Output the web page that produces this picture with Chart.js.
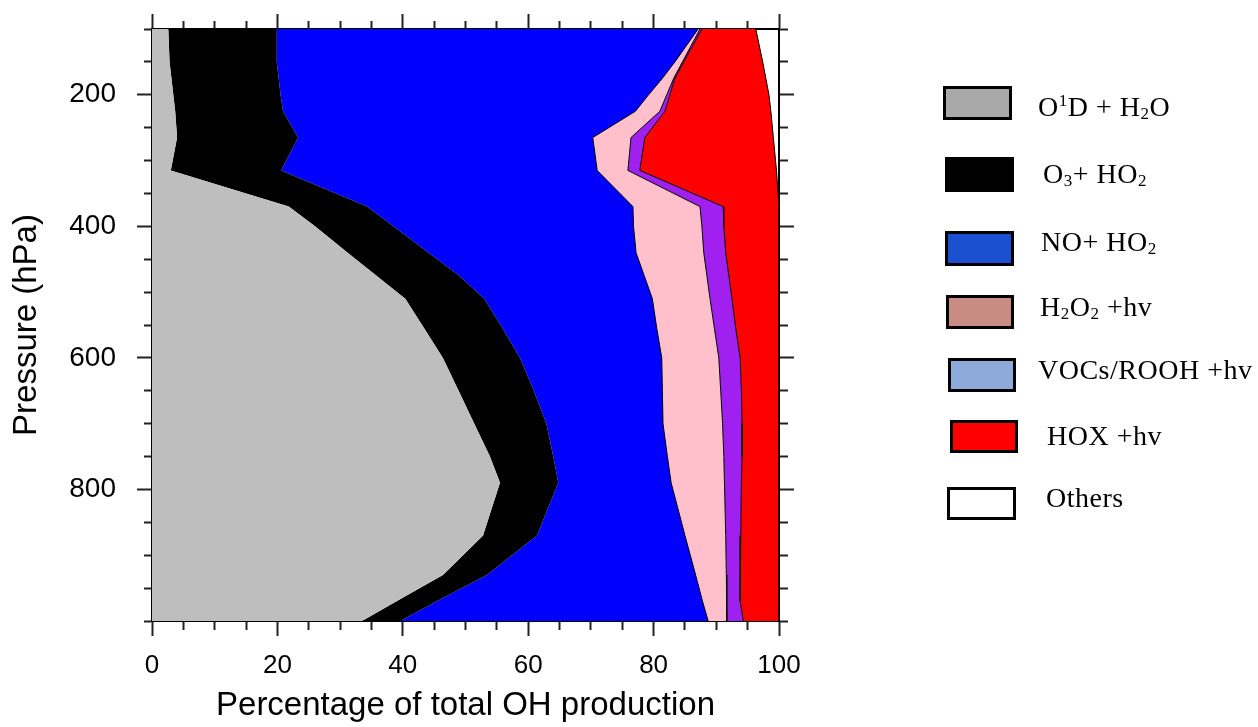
<!DOCTYPE html>
<html>
<head>
<meta charset="utf-8">
<title>OH production by pressure</title>
<script src="https://cdn.jsdelivr.net/npm/chart.js@4.4.0/dist/chart.umd.min.js"></script>
<style>
  body { margin: 0; background: #fff; }
  #wrap { position: relative; width: 1258px; height: 727px; }
  #legend { position: absolute; left: 0; top: 0; font-family: 'Liberation Serif', 'Times New Roman', serif; font-size: 28px; letter-spacing: 0.5px; color: #000; }
  .box { position: absolute; box-sizing: border-box; border: 3px solid #000; }
  .lbl { position: absolute; line-height: 1; white-space: nowrap; }
  .lbl sub, .lbl sup { font-size: 17px; line-height: 0; position: relative; vertical-align: baseline; }
  .lbl sub { top: 3px; }
  .lbl sup { top: -10px; }
</style>
</head>
<body>
<div id="wrap">
  <canvas id="ohChart"></canvas>
  <div id="legend">
    <div class="box" style="left:943px;top:86px;width:69px;height:34px;background:#a9a9a9"></div>
    <div class="lbl" style="left:1038px;top:93px">O<sup>1</sup>D + H<sub>2</sub>O</div>

    <div class="box" style="left:945px;top:157px;width:69px;height:35px;background:#000"></div>
    <div class="lbl" style="left:1043px;top:160px">O<sub>3</sub>+ HO<sub>2</sub></div>

    <div class="box" style="left:945px;top:231px;width:69px;height:35px;background:#1a50d0"></div>
    <div class="lbl" style="left:1041px;top:228px">NO+ HO<sub>2</sub></div>

    <div class="box" style="left:946px;top:295px;width:68px;height:34px;background:#c98c82"></div>
    <div class="lbl" style="left:1040px;top:293px">H<sub>2</sub>O<sub>2</sub> +hv</div>

    <div class="box" style="left:948px;top:358px;width:68px;height:34px;background:#8eaadb"></div>
    <div class="lbl" style="left:1038px;top:356px">VOCs/ROOH +hv</div>

    <div class="box" style="left:950px;top:420px;width:68px;height:33px;background:#ff0000"></div>
    <div class="lbl" style="left:1047px;top:422px">HOX +hv</div>

    <div class="box" style="left:947px;top:487px;width:69px;height:33px;background:#fff"></div>
    <div class="lbl" style="left:1046px;top:484px">Others</div>
  </div>
</div>
<script>
// pressure levels (hPa), top of the plot first
const pressure = [100, 150, 175, 200, 225, 265, 315, 370, 400, 440, 475, 510, 555, 600, 650, 700, 750, 790, 870, 930, 970, 1000];

// cumulative % of total OH production at the right edge of each band
const edgeO1D   = [2.6, 2.8, 3.1, 3.4, 3.7, 4.0, 3.0, 21.8, 26.0, 31.2, 35.8, 40.4, 43.4, 46.4, 48.9, 51.4, 53.9, 55.5, 52.8, 46.4, 39.0, 33.5];
const edgeO3HO2 = [19.9, 19.9, 20.2, 20.5, 20.9, 23.3, 20.6, 34.3, 38.5, 44.1, 49.0, 53.0, 55.9, 58.7, 60.9, 62.9, 64.0, 64.8, 61.4, 53.4, 45.4, 39.6];
const edgeNOHO2 = [87.1, 83.4, 81.4, 79.2, 77.1, 70.3, 71.0, 76.7, 76.8, 77.2, 78.5, 79.8, 80.5, 81.3, 81.4, 81.5, 82.2, 82.8, 85.0, 86.7, 87.8, 88.7];
const edgeH2O2  = [87.4, 84.6, 83.2, 82.1, 81.0, 76.4, 75.9, 87.4, 87.7, 88.0, 88.5, 89.0, 89.7, 90.4, 90.7, 91.0, 91.2, 91.3, 91.5, 91.6, 91.65, 91.7];
const edgeVOC   = [87.7, 84.8, 83.4, 82.6, 81.8, 78.6, 77.8, 91.1, 91.2, 91.5, 92.0, 92.5, 93.1, 93.8, 94.0, 94.1, 94.1, 94.0, 93.9, 93.8, 93.8, 94.3];
const edgeHOX   = [96.3, 97.4, 97.9, 98.4, 98.7, 99.1, 99.6, 100, 100, 100, 100, 100, 100, 100, 100, 100, 100, 100, 100, 100, 100, 100];

const xTicks = [0, 20, 40, 60, 80, 100];
const yTicks = [200, 400, 600, 800];

Chart.defaults.font.family = "'Liberation Sans', Arial, Helvetica, sans-serif";
Chart.defaults.color = '#000';

function toPoints(edge) {
    return edge.map((v, i) => ({ x: v, y: pressure[i] }));
}

function band(label, edge, color, fill, outline) {
    return {
        label: label,
        data: toPoints(edge),
        backgroundColor: color,
        borderColor: '#000',
        borderWidth: outline ? 1 : 0,
        pointRadius: 0,
        tension: 0,
        fill: fill
    };
}

// minor ticks: shorter marks kept next to the frame
const TICK = 15, MINOR = 8;
function tickDash(isMajor, fromOuter) {
    return c => {
        if (!c.tick || isMajor(c.tick.value)) return [];
        return fromOuter ? [0, TICK - MINOR, MINOR, 100] : [MINOR, 100];
    };
}
const isMajorX = v => xTicks.includes(v);
const isMajorY = v => yTicks.includes(v);

// fixed axis sizes so the plot frame lands where the original one is
function fixSize(w, h) {
    return s => {
        if (w !== null) s.width = w;
        if (h !== null) s.height = h;
        s.paddingTop = 0; s.paddingBottom = 0; s.paddingLeft = 0; s.paddingRight = 0;
    };
}

function frameAxis(extra) {
    const base = {
        type: 'linear',
        border: { display: true, color: '#000', width: 2 }
    };
    return Object.assign(base, extra);
}

new Chart(document.getElementById('ohChart'), {
    type: 'line',
    data: {
        datasets: [
            band('O1D + H2O', edgeO1D, '#bebebe', 'origin', false),
            band('O3 + HO2', edgeO3HO2, '#000000', '-1', false),
            band('NO + HO2', edgeNOHO2, '#0000ff', '-1', true),
            band('H2O2 + hv', edgeH2O2, '#ffc0cb', '-1', true),
            band('VOCs/ROOH + hv', edgeVOC, '#a020f0', '-1', true),
            band('HOX + hv', edgeHOX, '#ff0000', '-1', true)
        ]
    },
    options: {
        indexAxis: 'y',
        responsive: true,
        maintainAspectRatio: false,
        animation: false,
        layout: { padding: { left: 0, top: 0, right: 459, bottom: 0 } },
        plugins: {
            legend: { display: false },
            tooltip: { enabled: false },
            filler: { propagate: false, drawTime: 'beforeDatasetsDraw' }
        },
        scales: {
            x: frameAxis({
                position: 'bottom', min: 0, max: 100,
                afterFit: fixSize(null, 106),
                grid: { drawOnChartArea: false, tickLength: TICK, tickWidth: 2, tickColor: '#222', tickBorderDash: tickDash(isMajorX, false) },
                ticks: { stepSize: 5, autoSkip: false, maxRotation: 0, padding: 14, font: { size: 26 }, color: '#000',
                    callback: v => isMajorX(v) ? v : '' },
                title: { display: true, text: 'Percentage of total OH production', font: { size: 33 }, color: '#000', padding: { top: 0, bottom: 1 } }
            }),
            xTop: frameAxis({
                position: 'top', min: 0, max: 100,
                afterFit: fixSize(null, 29),
                grid: { drawOnChartArea: false, tickLength: TICK, tickWidth: 2, tickColor: '#222', tickBorderDash: tickDash(isMajorX, true) },
                ticks: { stepSize: 5, autoSkip: false, maxRotation: 0, padding: 0, font: { size: 1 }, callback: () => '' }
            }),
            y: frameAxis({
                position: 'left', min: 100, max: 1000, reverse: true,
                afterFit: fixSize(152, null),
                grid: { drawOnChartArea: false, tickLength: TICK, tickWidth: 2, tickColor: '#222', tickBorderDash: tickDash(isMajorY, true) },
                ticks: { stepSize: 50, autoSkip: false, padding: 21, font: { size: 28 }, color: '#000',
                    callback: v => isMajorY(v) ? v : '' },
                title: { display: true, text: 'Pressure (hPa)', font: { size: 33 }, color: '#000', padding: { top: 7, bottom: 0 } }
            }),
            yRight: frameAxis({
                position: 'right', min: 100, max: 1000, reverse: true,
                afterFit: fixSize(20, null),
                grid: { drawOnChartArea: false, tickLength: TICK, tickWidth: 2, tickColor: '#222', tickBorderDash: tickDash(isMajorY, false) },
                ticks: { stepSize: 50, autoSkip: false, padding: 0, font: { size: 1 }, callback: () => '' }
            })
        }
    }
});
</script>
</body>
</html>
